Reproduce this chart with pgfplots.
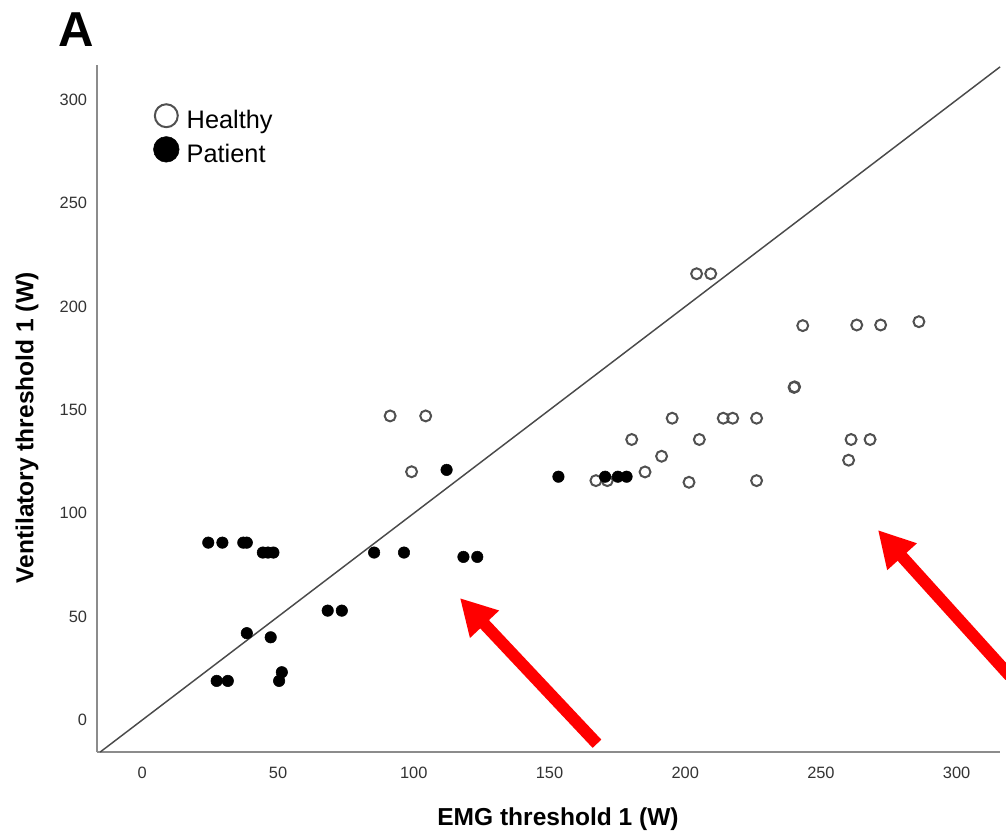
\documentclass[border=0pt]{standalone}
\usepackage{fontspec}
\setmainfont{Liberation Sans}
\usepackage{pgfplots}
\pgfplotsset{compat=1.18}
\usetikzlibrary{arrows.meta}
\definecolor{axisgray}{HTML}{8C8C8C}
\definecolor{markgray}{HTML}{505050}
\definecolor{linegray}{HTML}{4A4A4A}
\begin{document}
\begin{tikzpicture}
\path[use as bounding box] (0,0) rectangle (754.5pt,-625.5pt);
\node[font=\bfseries\fontsize{36.8}{40}\selectfont] at (57pt,-22.5pt) {A};
\begin{axis}[
  at={(72.75pt,-564pt)}, anchor=south west,
  width=677.25pt, height=515.25pt, scale only axis,
  xmin=-16.69, xmax=315.97, ymin=-15.5, ymax=316.9,
  axis x line=bottom, axis y line=left,
  axis line style={-, axisgray, line width=1.2pt},
  xtick={0,50,...,300}, ytick={0,50,...,300},
  major tick length=0pt,
  tick label style={font=\fontsize{12.3}{14}\selectfont, color=black!80},
  /pgf/number format/assume math mode=true,
  xticklabel style={inner sep=0pt, anchor=north, yshift=-11pt},
  yticklabel style={inner sep=0pt, anchor=east, xshift=-7.3pt},
  xlabel={EMG threshold 1 (W)}, ylabel={Ventilatory threshold 1 (W)},
  label style={font=\bfseries\fontsize{18.4}{22}\selectfont},
  xlabel style={at={(axis description cs:0.5105,-0.0975)}, anchor=center},
  ylabel style={at={(axis description cs:-0.0775,0.4716)}, anchor=center},
  clip=false,
  legend style={at={(axis description cs:0.062,0.9447)}, anchor=north west,
    draw=none, fill=none, font=\fontsize{19}{23}\selectfont,
    row sep=3pt, column sep=4.5pt, inner sep=0pt, nodes={inner sep=1pt, yshift=-2.3pt}},
  legend cell align=left,
]
\addplot[only marks, mark=o, mark size=4.1pt, mark options={markgray, line width=1.5pt, fill=white},
  legend image code/.code={\draw[markgray, line width=1.5pt, fill=white] (0pt,1.5pt) circle (8.6pt);}]
coordinates {
 (91.3,147.1) (104.4,147.1) (99.2,120.1)
 (167.1,115.8) (171.3,115.8)
 (204.2,215.9) (209.4,215.9)
 (243.3,190.8) (263.2,191.1) (272.0,191.1) (286.1,192.7)
 (240.1,160.9) (240.3,161.2)
 (195.2,146.0) (214.0,146.0) (217.5,146.0) (226.3,146.0)
 (180.3,135.7) (205.2,135.7) (261.1,135.7) (268.1,135.7)
 (260.2,125.7) (191.3,127.6) (185.2,120.0)
 (201.4,115.0) (226.3,115.8)
};
\addlegendentry{Healthy}
\addplot[only marks, mark=*, mark size=4.3pt, mark options={black, fill=black},
  legend image code/.code={\fill[black] (0pt,1.5pt) circle (9.6pt);}]
coordinates {
 (24.3,85.8) (29.5,85.8) (37.2,85.8) (38.5,85.8)
 (44.4,81.0) (46.3,81.0) (48.3,81.0)
 (85.4,81.0) (96.4,81.0)
 (118.3,78.9) (123.4,78.9)
 (68.3,52.9) (73.5,52.9)
 (38.5,42.0) (47.3,40.0)
 (27.4,18.9) (31.5,18.9)
 (51.4,23.1) (50.4,18.9)
 (112.1,121.0)
 (153.3,117.7)
 (170.5,117.7) (175.2,117.7) (178.4,117.7)
};
\addlegendentry{Patient}
\addplot[linegray, line width=1.1pt, forget plot] coordinates {(-15.5,-15.5) (316,316)};
\draw[red, line width=9pt, -{Triangle[length=27pt, width=28pt]}]
  (axis cs:167.5,-11.5) -- (axis cs:117,59);
\draw[red, line width=9pt, -{Triangle[length=27pt, width=28pt]}]
  (axis cs:319.6,21.3) -- (axis cs:271,91.9);
\end{axis}
\end{tikzpicture}
\end{document}
